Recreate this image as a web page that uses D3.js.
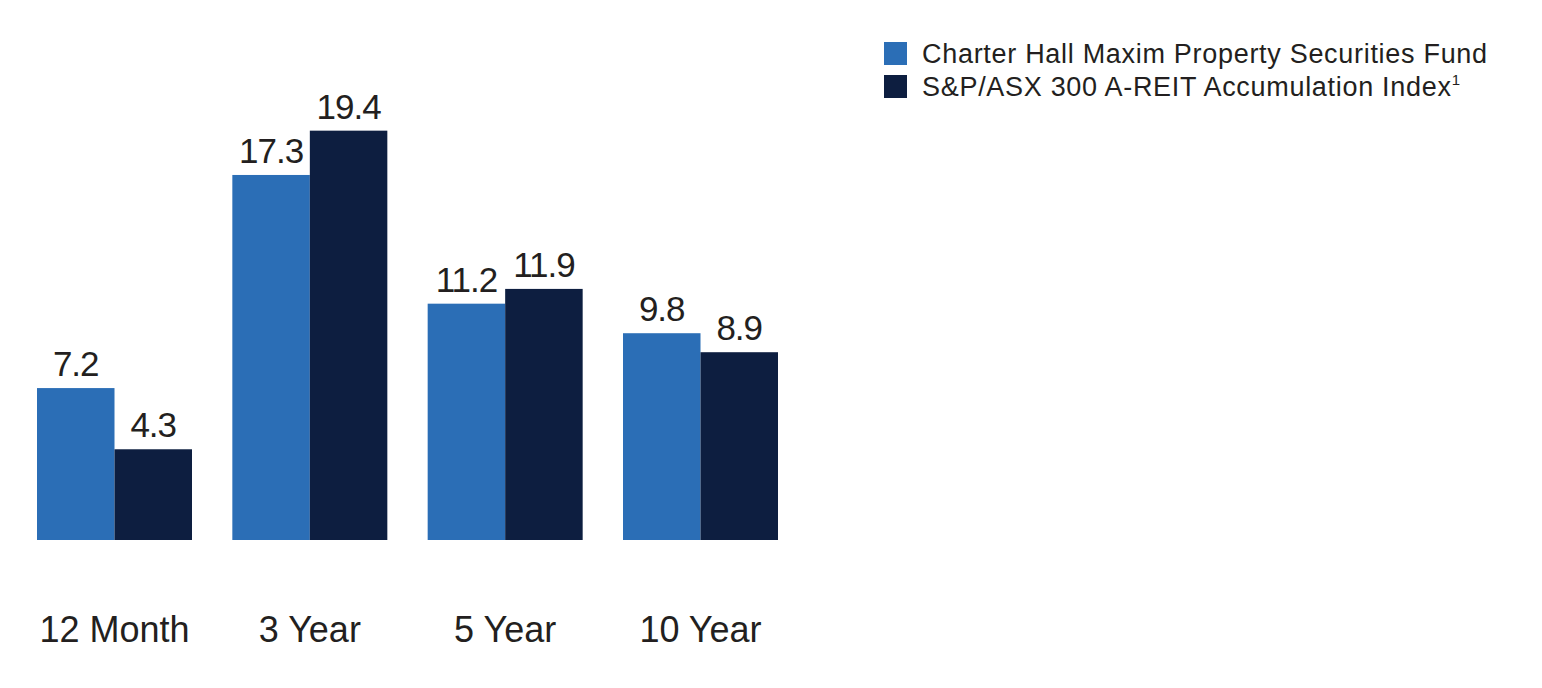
<!DOCTYPE html>
<html>
<head>
<meta charset="utf-8">
<script src="https://cdn.jsdelivr.net/npm/d3@7"></script>
<style>
  html, body { margin: 0; padding: 0; background: #fff; }
  text { font-family: "Liberation Sans", Arial, sans-serif; fill: #231f20; }
</style>
</head>
<body>
<div id="chart"></div>
<script>
// data
let periods = ["12 Month", "3 Year", "5 Year", "10 Year"];
let seriesNames = ["Charter Hall Maxim Property Securities Fund", "S&P/ASX 300 A-REIT Accumulation Index"];
let fundValues = [7.2, 17.3, 11.2, 9.8];
let indexValues = [4.3, 19.4, 11.9, 8.9];
let seriesColors = ["#2b6eb6", "#0d1e40"];

function chartOne(width, height, selector) {

  let rows = periods.map((p, i) => ({ period: p, values: [fundValues[i], indexValues[i]] }));

  // scales
  let x0 = d3.scaleBand()
    .domain(periods)
    .range([37, 778])
    .paddingInner(0.2065)
    .paddingOuter(0);

  let x1 = d3.scaleBand()
    .domain([0, 1])
    .range([0, x0.bandwidth()]);

  let y = d3.scaleLinear()
    .domain([0, 20])
    .range([540, 540 - 422]);

  let svg = d3.select(selector)
    .append("svg")
    .attr("width", width)
    .attr("height", height);

  let groups = svg.selectAll("g.group")
    .data(rows)
    .join("g")
    .attr("class", "group")
    .attr("transform", d => "translate(" + x0(d.period) + ",0)");

  groups.selectAll("rect")
    .data(d => d.values.map((v, k) => ({ k: k, v: v })))
    .join("rect")
    .attr("x", d => x1(d.k))
    .attr("y", d => y(d.v))
    .attr("width", x1.bandwidth())
    .attr("height", d => y(0) - y(d.v))
    .attr("fill", d => seriesColors[d.k]);

  groups.selectAll("text.value")
    .data(d => d.values.map((v, k) => ({ k: k, v: v })))
    .join("text")
    .attr("class", "value")
    .attr("x", d => x1(d.k) + x1.bandwidth() / 2)
    .attr("y", d => y(d.v) - 12)
    .attr("text-anchor", "middle")
    .style("font-size", "35px")
    .style("letter-spacing", "-1px")
    .text(d => d.v.toFixed(1));

  // category labels
  svg.selectAll("text.cat")
    .data(periods)
    .join("text")
    .attr("class", "cat")
    .attr("x", d => x0(d) + x0.bandwidth() / 2)
    .attr("y", 642)
    .attr("text-anchor", "middle")
    .style("font-size", "36px")
    .text(d => d);

  // legend
  let legend = svg.append("g")
    .attr("transform", "translate(884,42)");

  let items = legend.selectAll("g")
    .data(seriesNames)
    .join("g")
    .attr("transform", (d, i) => "translate(0," + (i * 33) + ")");

  items.append("rect")
    .attr("width", 23)
    .attr("height", 23)
    .attr("fill", (d, i) => seriesColors[i]);

  let labels = items.append("text")
    .attr("x", 38)
    .attr("y", 21)
    .style("font-size", "27px")
    .style("letter-spacing", "0.7px")
    .text(d => d);

  labels.filter((d, i) => i === 1)
    .append("tspan")
    .attr("dy", -11)
    .style("font-size", "15px")
    .style("letter-spacing", "0px")
    .text("1");
}

chartOne(1542, 688, "#chart");
</script>
</body>
</html>
